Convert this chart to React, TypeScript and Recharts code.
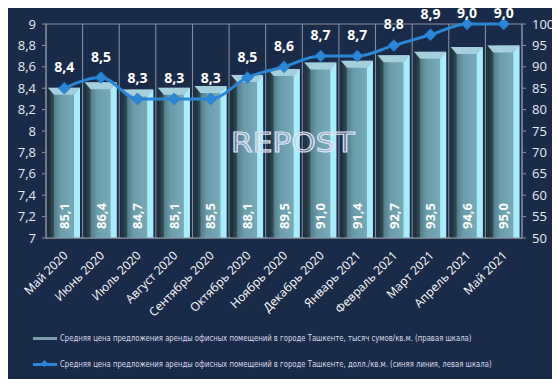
import React from "react";
import {
  ComposedChart,
  Bar,
  Line,
  XAxis,
  YAxis,
  CartesianGrid,
  LabelList,
  Legend,
} from "recharts";

const categories = [
  "Май 2020",
  "Июнь 2020",
  "Июль 2020",
  "Август 2020",
  "Сентябрь 2020",
  "Октябрь 2020",
  "Ноябрь 2020",
  "Декабрь 2020",
  "Январь 2021",
  "Февраль 2021",
  "Март 2021",
  "Апрель 2021",
  "Май 2021",
];
const sumValues = [85.1, 86.4, 84.7, 85.1, 85.5, 88.1, 89.5, 91.0, 91.4, 92.7, 93.5, 94.6, 95.0];
const usdValues = [8.4, 8.5, 8.3, 8.3, 8.3, 8.5, 8.6, 8.7, 8.7, 8.8, 8.9, 9.0, 9.0];
const leftTicks = [7, 7.2, 7.4, 7.6, 7.8, 8, 8.2, 8.4, 8.6, 8.8, 9];
const rightTicks = [50, 55, 60, 65, 70, 75, 80, 85, 90, 95, 100];
const sumName =
  "Средняя цена предложения аренды офисных помещений в городе Ташкенте, тысяч сумов/кв.м. (правая шкала)";
const usdName =
  "Средняя цена предложения аренды офисных помещений в городе Ташкенте, долл./кв.м. (синяя линия, левая шкала)";

const data = categories.map((c, i) => ({ name: c, sum: sumValues[i], usd: usdValues[i] }));

const fmt = (v: number) => v.toLocaleString("ru-RU");
const fmt1 = (v: number) => v.toFixed(1).replace(".", ",");
const FONT = "'Open Sans', 'Noto Sans', sans-serif";
const LEGEND_FONT = "'DejaVu Sans Condensed', 'Liberation Sans Narrow', 'Open Sans', sans-serif";

const BarShape = (props: any) => {
  const { x, y, width, height } = props;
  if (!height || height <= 0) return null;
  const s = 6;
  const b = 7;
  return (
    <g>
      <rect x={x} y={y} width={width} height={height} fill="url(#barBody)" />
      <polygon
        points={`${x},${y} ${x + s},${y + b} ${x + s},${y + height} ${x},${y + height}`}
        fill="url(#barLeft)"
      />
      <polygon
        points={`${x + width},${y} ${x + width - s},${y + b} ${x + width - s},${y + height} ${x + width},${y + height}`}
        fill="#a9ecfb"
      />
      <polygon
        points={`${x},${y} ${x + width},${y} ${x + width - s},${y + b} ${x + s},${y + b}`}
        fill="#a4cfdb"
      />
    </g>
  );
};

const Diamond = (props: any) => {
  const { cx, cy } = props;
  if (cx == null || cy == null) return null;
  const r = 6;
  return (
    <polygon
      points={`${cx},${cy - r} ${cx + r},${cy} ${cx},${cy + r} ${cx - r},${cy}`}
      fill="#2b86d6"
      stroke="#1f6fbf"
      strokeWidth={0.5}
    />
  );
};

const BarLabel = (props: any) => {
  const { x, y, width, height, value } = props;
  const cx = x + width / 2;
  const cy = y + height - 22;
  return (
    <text
      x={cx}
      y={cy}
      transform={`rotate(-90 ${cx} ${cy})`}
      textAnchor="middle"
      dominantBaseline="central"
      fill="#ffffff"
      fontSize={13}
      fontWeight={700}
      fontFamily={FONT}
    >
      {fmt1(value)}
    </text>
  );
};

const LineLabel = (props: any) => {
  const { x, y, value } = props;
  return (
    <text
      x={x}
      y={Math.max(y - 16, 16)}
      textAnchor="middle"
      fill="#ffffff"
      fontSize={14}
      fontWeight={700}
      fontFamily={FONT}
    >
      {fmt1(value)}
    </text>
  );
};

const XTick = (props: any) => {
  const { x, y, payload } = props;
  const ax = x + 1;
  const ay = y + 7;
  return (
    <text
      x={ax}
      y={ay}
      transform={`rotate(-45 ${ax} ${ay})`}
      textAnchor="end"
      dominantBaseline="central"
      fill="#ffffff"
      fontSize={12}
      fontFamily={FONT}
    >
      {payload.value}
    </text>
  );
};

const legendText: React.CSSProperties = {
  position: "absolute",
  left: 58,
  whiteSpace: "nowrap",
  lineHeight: "14px",
  transform: "scaleX(0.89)",
  transformOrigin: "left center",
};

const LegendContent = () => (
  <div
    style={{
      position: "relative",
      width: 556,
      height: 56,
      fontFamily: LEGEND_FONT,
      fontSize: 8.6,
      color: "#d5dce6",
    }}
  >
    <div style={{ position: "absolute", left: 31, top: 15, width: 24, height: 3, background: "#7a9eaa" }} />
    <div style={{ ...legendText, top: 9 }}>{sumName}</div>
    <div style={{ position: "absolute", left: 31, top: 41, width: 24, height: 3, background: "#2b86d6" }} />
    <div
      style={{
        position: "absolute",
        left: 40,
        top: 39,
        width: 5,
        height: 5,
        background: "#2b86d6",
        transform: "rotate(45deg)",
      }}
    />
    <div style={{ ...legendText, top: 35 }}>{usdName}</div>
  </div>
);

export default function App() {
  const W = 560;
  const H = 387;
  return (
    <div
      style={{
        position: "relative",
        width: W,
        height: H,
        margin: -8,
        background: "#1a2a49",
        boxSizing: "border-box",
        border: "2px solid #2e4063",
        borderRadius: 4,
        overflow: "hidden",
      }}
    >
      <div
        style={{
          position: "absolute",
          left: 0,
          right: 0,
          top: 3,
          height: 3,
          background: "#3c5276",
        }}
      />
      <ComposedChart
        width={W - 4}
        height={H - 4}
        data={data}
        margin={{ top: 22, right: 0, bottom: 9, left: 4 }}
        style={{ fontFamily: FONT }}
      >
        <defs>
          <linearGradient id="barBody" x1="0" y1="0" x2="1" y2="0">
            <stop offset="0%" stopColor="#3d5f6c" />
            <stop offset="40%" stopColor="#6b9cab" />
            <stop offset="85%" stopColor="#79abb9" />
            <stop offset="100%" stopColor="#8cc3d1" />
          </linearGradient>
          <linearGradient id="barLeft" x1="0" y1="0" x2="1" y2="0">
            <stop offset="0%" stopColor="#1c2a32" />
            <stop offset="100%" stopColor="#34505b" />
          </linearGradient>
        </defs>
        <CartesianGrid
          stroke="#8b949e"
          strokeWidth={1}
          verticalCoordinatesGenerator={({ offset }: any) =>
            categories.map((_, i) => offset.left + (i * offset.width) / categories.length).concat([
              offset.left + offset.width,
            ])
          }
        />
        <XAxis
          dataKey="name"
          interval={0}
          height={80}
          tick={<XTick />}
          tickLine={false}
          axisLine={{ stroke: "#8b949e" }}
        />
        <YAxis
          yAxisId="left"
          domain={[7, 9]}
          ticks={leftTicks}
          tickFormatter={fmt}
          width={40}
          tick={{ fill: "#e6ebf2", fontSize: 13 }}
          tickLine={{ stroke: "#8b949e" }}
          tickSize={4}
          tickMargin={6}
          axisLine={{ stroke: "#8b949e" }}
          interval={0}
        />
        <YAxis
          yAxisId="right"
          orientation="right"
          domain={[50, 100]}
          ticks={rightTicks}
          width={36}
          tick={{ fill: "#e6ebf2", fontSize: 13 }}
          tickLine={{ stroke: "#8b949e" }}
          tickSize={4}
          tickMargin={6}
          axisLine={{ stroke: "#8b949e" }}
          interval={0}
        />
        <Legend
          verticalAlign="bottom"
          align="left"
          height={58}
          wrapperStyle={{ left: 0, top: 320, width: 556 }}
          content={<LegendContent />}
        />
        <Bar
          yAxisId="right"
          dataKey="sum"
          name={sumName}
          barSize={32}
          shape={<BarShape />}
          isAnimationActive={false}
        >
          <LabelList dataKey="sum" content={<BarLabel />} />
        </Bar>
        <Line
          yAxisId="left"
          type="monotone"
          dataKey="usd"
          name={usdName}
          stroke="#2b86d6"
          strokeWidth={3}
          dot={<Diamond />}
          activeDot={false}
          isAnimationActive={false}
        >
          <LabelList dataKey="usd" content={<LineLabel />} />
        </Line>
      </ComposedChart>
      <div
        style={{
          position: "absolute",
          left: 229,
          top: 126,
          fontFamily: "'DejaVu Sans', sans-serif",
          fontSize: 26,
          fontWeight: 400,
          letterSpacing: 0,
          color: "rgba(170,185,215,0.35)",
          WebkitTextStroke: "1.2px rgba(225,232,250,0.95)",
          transform: "scaleX(1.2)",
          transformOrigin: "left top",
          pointerEvents: "none",
        }}
      >
        REPOST
      </div>
    </div>
  );
}
